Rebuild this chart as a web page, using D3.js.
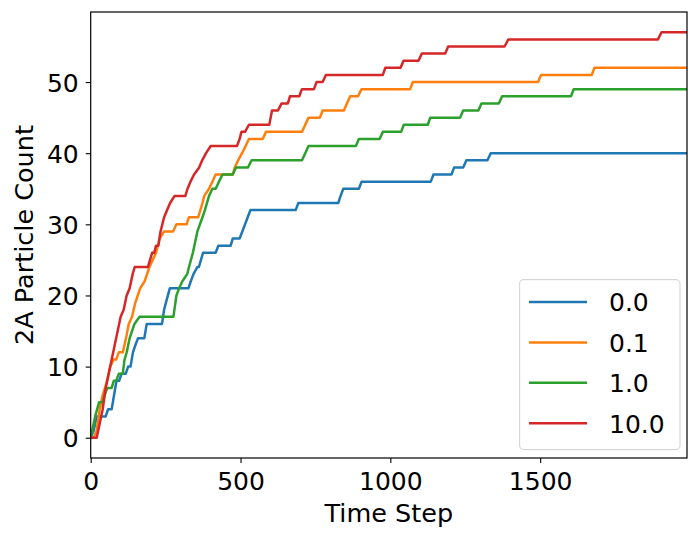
<!DOCTYPE html>
<html>
<head>
<meta charset="utf-8">
<script src="https://cdn.jsdelivr.net/npm/d3@7"></script>
<style>
html,body{margin:0;padding:0;background:#fff;}
svg{display:block;font-family:"DejaVu Sans",sans-serif;}
</style>
</head>
<body>
<svg id="chart" width="700" height="540"></svg>
<script>
// ---- data ----
const seriesNames = ["0.0", "0.1", "1.0", "10.0"];
const seriesColors = ["#1f77b4", "#ff7f0e", "#2ca02c", "#d62728"];
const xTicks = [0, 500, 1000, 1500];
const yTicks = [0, 10, 20, 30, 40, 50];
const xLabel = "Time Step";
const yLabel = "2A Particle Count";

// [time step, particle count]
const s00 = [[0,0],[10,1],[20,3],[50,3],[58,4],[70,4],[78,6],[86,8],[95,8],[103,9],[117,9],[125,10],[133,10],[141,12],[149,13],[158,14],[179,14],[187,16],[238,16],[245,18],[251,19],[264,21],[326,21],[334,22],[343,23],[356,24],[361,24],[375,26],[417,26],[426,27],[467,27],[474,28],[497,28],[506,29],[515,30],[524,31],[533,32],[684,32],[693,33],[826,33],[834,34],[843,35],[895,35],[904,36],[1135,36],[1144,37],[1204,37],[1213,38],[1243,38],[1254,39],[1324,39],[1335,40],[1990,40]];
const s01 = [[0,0],[10,0],[20,1],[30,4],[40,6],[55,8],[65,10],[77,11],[85,11],[94,12],[107,12],[118,14],[127,16],[138,17],[149,19],[165,21],[180,22],[196,24],[207,25],[218,26],[230,28],[245,29],[275,29],[286,30],[320,30],[328,31],[359,31],[373,33],[379,34],[395,35],[406,36],[417,37],[474,37],[481,38],[492,39],[505,40],[517,41],[528,42],[574,42],[585,43],[705,43],[716,44],[727,45],[765,45],[774,46],[845,46],[855,47],[866,48],[892,48],[904,49],[1066,49],[1075,50],[1493,50],[1503,51],[1672,51],[1681,52],[1990,52]];
const s10 = [[0,0],[5,1],[15,3],[28,5],[39,5],[55,7],[70,7],[77,8],[85,8],[94,9],[107,9],[113,11],[120,12],[130,14],[146,16],[163,17],[276,17],[286,20],[295,21],[306,22],[322,23],[328,24],[341,26],[356,29],[373,31],[381,32],[395,34],[406,35],[417,35],[428,36],[440,37],[474,37],[485,38],[525,38],[537,39],[705,39],[716,40],[727,41],[885,41],[895,42],[964,42],[975,43],[1036,43],[1045,44],[1125,44],[1133,45],[1233,45],[1243,46],[1294,46],[1304,47],[1362,47],[1373,48],[1603,48],[1612,49],[1990,49]];
const s100 = [[0,0],[20,0],[30,2],[40,4],[50,7],[60,9],[70,11],[80,13],[90,15],[100,17],[110,18],[120,20],[130,21],[140,23],[147,24],[191,24],[198,25],[205,26],[212,26],[218,27],[226,27],[233,29],[245,31],[255,32],[265,33],[280,34],[316,34],[323,35],[333,36],[345,37],[362,38],[372,39],[385,40],[400,41],[488,41],[497,42],[503,43],[515,43],[528,44],[596,44],[605,46],[625,46],[637,47],[658,47],[665,48],[696,48],[705,49],[745,49],[754,50],[774,50],[785,51],[975,51],[983,52],[1034,52],[1044,53],[1094,53],[1105,54],[1183,54],[1193,55],[1381,55],[1394,56],[1893,56],[1905,57],[1990,57]];
const seriesData = [s00, s01, s10, s100];

// ---- layout ----
const pL = 90.7, pR = 687, pT = 12, pB = 458;
const svg = d3.select("#chart");
const x = d3.scaleLinear().domain([0, 1990]).range([pL, pR]);
const y = d3.scaleLinear().domain([-2.85, 59.85]).range([pB, pT]);

svg.append("defs").append("clipPath").attr("id", "clip")
  .append("rect").attr("x", pL).attr("y", pT).attr("width", pR - pL).attr("height", pB - pT);

const line = d3.line().x(d => x(d[0])).y(d => y(d[1]));
const g = svg.append("g").attr("clip-path", "url(#clip)");
seriesData.forEach((s, i) => {
  g.append("path").datum(s)
    .attr("d", line)
    .attr("fill", "none")
    .attr("stroke", seriesColors[i])
    .attr("stroke-width", 2.5)
    .attr("stroke-linejoin", "round")
    .attr("stroke-linecap", "square");
});

// axes
const xAxis = svg.append("g").attr("transform", `translate(0,${pB})`)
  .call(d3.axisBottom(x).tickValues(xTicks).tickSize(5).tickSizeOuter(0).tickFormat(d3.format("d")));
xAxis.select(".domain").remove();
xAxis.selectAll("line").attr("stroke", "#000").attr("stroke-width", 1.1);
xAxis.selectAll("text").attr("fill", "#000").attr("font-size", 25)
  .attr("font-family", "DejaVu Sans").attr("dy", null).attr("y", 32);

const yAxis = svg.append("g").attr("transform", `translate(${pL},0)`)
  .call(d3.axisLeft(y).tickValues(yTicks).tickSize(5).tickSizeOuter(0).tickFormat(d3.format("d")));
yAxis.select(".domain").remove();
yAxis.selectAll("line").attr("stroke", "#000").attr("stroke-width", 1.1);
yAxis.selectAll("text").attr("fill", "#000").attr("font-size", 25)
  .attr("font-family", "DejaVu Sans").attr("x", -12).attr("dy", "0.36em");

// frame
svg.append("rect").attr("x", pL).attr("y", pT).attr("width", pR - pL).attr("height", pB - pT)
  .attr("fill", "none").attr("stroke", "#000").attr("stroke-width", 1.2);

// labels
svg.append("text").attr("x", (pL + pR) / 2).attr("y", 521.5).attr("text-anchor", "middle")
  .attr("font-size", 25.5).attr("fill", "#000").text(xLabel);
svg.append("text").attr("transform", `translate(33,${(pT + pB) / 2}) rotate(-90)`)
  .attr("text-anchor", "middle").attr("font-size", 25.5).attr("fill", "#000").text(yLabel);

// legend
const lg = svg.append("g");
lg.append("rect").attr("x", 519.6).attr("y", 279.6).attr("width", 160.4).attr("height", 170)
  .attr("rx", 4).attr("fill", "#fff").attr("fill-opacity", 0.8).attr("stroke", "#d6d6d6").attr("stroke-width", 1.1);
seriesNames.forEach((n, i) => {
  const cy = 302 + i * 40.4;
  lg.append("line").attr("x1", 529).attr("x2", 587).attr("y1", cy).attr("y2", cy)
    .attr("stroke", seriesColors[i]).attr("stroke-width", 2.5);
  lg.append("text").attr("x", 609).attr("y", cy + 9.4).attr("font-size", 25).attr("fill", "#000").text(n);
});
</script>
</body>
</html>
